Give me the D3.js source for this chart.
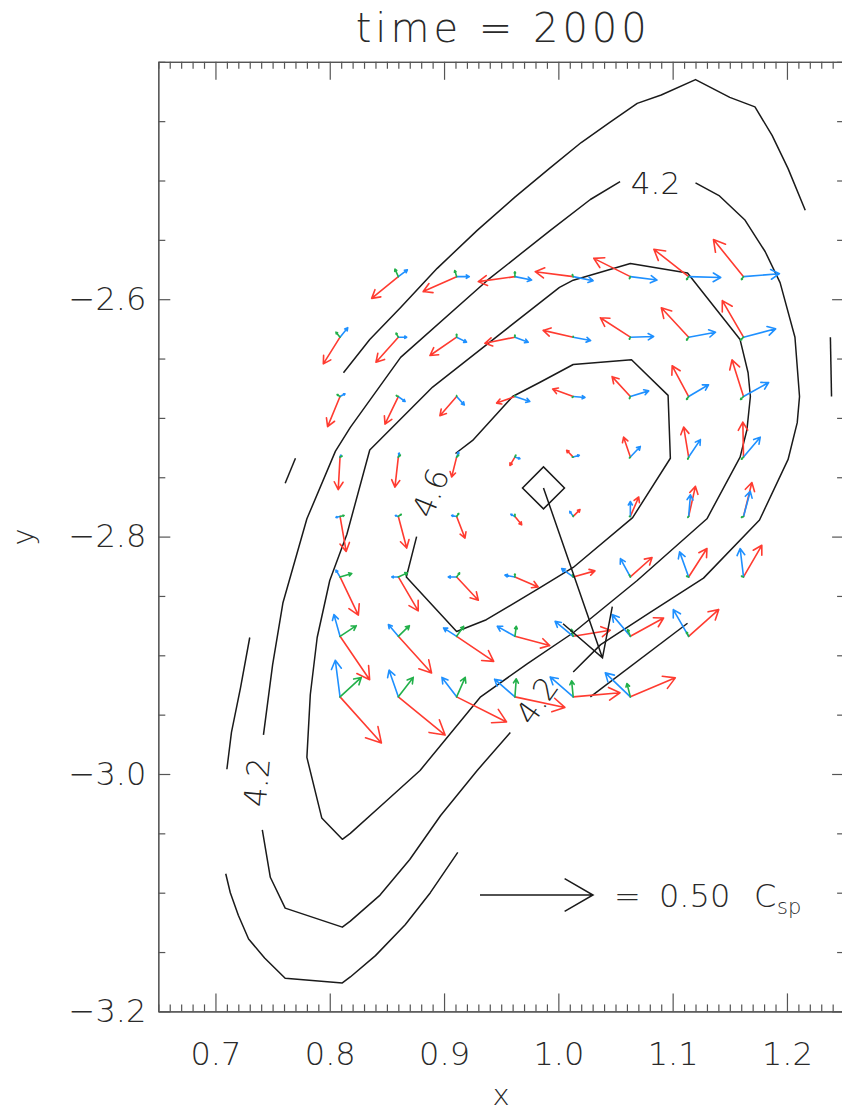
<!DOCTYPE html>
<html>
<head>
<meta charset="utf-8">
<script src="https://cdn.jsdelivr.net/npm/d3@7"></script>
<style>
  body { margin: 0; background: #fff; }
  text { font-family: "DejaVu Sans", sans-serif; font-weight: 200; fill: #2a2a2a; }
</style>
</head>
<body>
<svg id="chart" width="842" height="1113"></svg>
<script>
// ---- axes ----
const xDomain = [0.65, 1.25];
const yDomain = [-3.2, -2.4];
const xTickValues = [0.7, 0.8, 0.9, 1.0, 1.1, 1.2];
const yTickValues = [-3.2, -3.0, -2.8, -2.6];
const titleText = "time = 2000";

// ---- vector grid (x, y of nodes) ----
const gridX = [0.809, 0.860, 0.911, 0.962, 1.013, 1.063, 1.114, 1.162];
const gridY = [-2.581, -2.632, -2.682, -2.733, -2.783, -2.834, -2.884, -2.935];

// velocity components [u, v] in units of C_sp, one row per gridY
const redVec = [
  [null, [-0.118,-0.096], [-0.148,-0.066], [-0.162,-0.022], [-0.168,0.022], [-0.162,0.081], [-0.154,0.121], [-0.133,0.164]],
  [[-0.074,-0.118], [-0.099,-0.111], [-0.118,-0.081], [-0.133,-0.027], [-0.133,0.030], [-0.133,0.086], [-0.121,0.130], [-0.094,0.162]],
  [[-0.055,-0.133], [-0.059,-0.122], [-0.074,-0.085], [-0.081,-0.029], [-0.091,0.033], [-0.081,0.088], [-0.073,0.136], [-0.051,0.162]],
  [[-0.008,-0.144], [-0.015,-0.133], [-0.022,-0.088], [-0.022,-0.037], [-0.029,0.030], [-0.030,0.088], [-0.022,0.133], [-0.003,0.155]],
  [[0.027,-0.155], [0.037,-0.140], [0.037,-0.096], [0.030,-0.037], [0.030,0.030], [0.037,0.086], [0.030,0.133], [0.037,0.150]],
  [[0.081,-0.169], [0.088,-0.150], [0.096,-0.103], [0.103,-0.044], [0.096,0.027], [0.096,0.086], [0.081,0.126], [0.081,0.140]],
  [[0.131,-0.192], [0.147,-0.162], [0.164,-0.111], [0.154,-0.041], [0.164,0.027], [0.147,0.081], [0.133,0.118], null],
  [[0.183,-0.204], [0.207,-0.169], [0.221,-0.111], [0.221,-0.047], [0.207,0.018], [0.199,0.084], null, null]
];
const blueVec = [
  [null, [0.040,0.030], [0.056,0.000], [0.074,-0.015], [0.088,-0.018], [0.118,-0.015], [0.142,-0.004], [0.159,0.013]],
  [[0.034,0.042], [0.037,0.000], [0.044,-0.022], [0.059,-0.022], [0.077,-0.015], [0.103,0.003], [0.119,0.022], [0.142,0.037]],
  [[0.022,0.012], [0.030,-0.022], [0.034,-0.037], [0.066,-0.022], [0.052,-0.004], [0.081,0.025], [0.088,0.052], [0.111,0.062]],
  [[0.004,0.009], [0.004,0.018], [0.009,0.022], [0.022,-0.007], [0.027,0.008], [0.044,0.047], [0.052,0.077], [0.074,0.088]],
  [[-0.018,-0.004], [-0.013,0.004], [-0.022,0.004], [-0.018,0.009], [-0.015,0.022], [0.000,0.066], [0.008,0.096], [0.030,0.111]],
  [[-0.018,0.030], [-0.029,0.000], [-0.037,0.000], [-0.044,0.008], [-0.051,0.037], [-0.044,0.081], [-0.040,0.111], [-0.015,0.126]],
  [[-0.027,0.096], [-0.044,0.052], [-0.058,0.037], [-0.078,0.044], [-0.080,0.066], [-0.081,0.096], [-0.068,0.118], null],
  [[-0.021,0.162], [-0.041,0.118], [-0.065,0.086], [-0.090,0.078], [-0.102,0.088], [-0.111,0.106], null, null]
];
const greenVec = [
  [null, [-0.015,0.033], [-0.008,0.027], [0.000,0.021], [-0.004,0.009], [-0.004,-0.009], [-0.009,-0.013], [-0.009,-0.013]],
  [[-0.018,0.022], [-0.010,0.018], [0.000,0.013], [0.000,0.009], [0.000,0.004], [-0.004,-0.009], [-0.009,-0.013], [-0.013,-0.013]],
  [[-0.013,0.009], [-0.009,0.004], [0.000,0.004], [0.000,0.004], [-0.004,-0.004], [-0.004,-0.009], [-0.009,-0.013], [-0.013,-0.013]],
  [[0.009,0.004], [0.009,0.009], [0.009,0.009], [0.004,0.009], [-0.004,0.000], [-0.004,-0.004], [-0.004,-0.009], [-0.009,-0.009]],
  [[0.018,0.004], [0.013,0.009], [0.009,0.013], [0.000,0.009], [0.000,0.004], [-0.004,0.000], [-0.004,-0.004], [-0.009,-0.004]],
  [[0.052,0.015], [0.040,0.018], [0.013,0.018], [0.000,0.013], [-0.004,0.009], [-0.004,0.009], [-0.009,0.004], [-0.009,0.004]],
  [[0.072,0.047], [0.049,0.047], [0.031,0.044], [0.006,0.044], [-0.008,0.031], [-0.012,0.030], [-0.009,0.018], null],
  [[0.094,0.086], [0.066,0.086], [0.038,0.086], [0.006,0.080], [-0.007,0.071], [-0.015,0.059], null, null]
];

// star position and its velocity (C_sp)
const starPos = [0.987, -2.759];
const starVel = [0.261, -0.752];
const legendSpeed = 0.50;

// ---- contour lines (data coordinates), broken where labels sit ----
const contourLines = [
  // outermost
  [[1.216,-2.525],[1.201,-2.490],[1.187,-2.462],[1.172,-2.438],[1.150,-2.430],[1.120,-2.415],[1.090,-2.428],[1.069,-2.435],[1.045,-2.451],[1.020,-2.468],[0.992,-2.490],[0.962,-2.514],[0.929,-2.542],[0.894,-2.574],[0.862,-2.607],[0.835,-2.634],[0.812,-2.662]],
  [[0.761,-2.755],[0.770,-2.734]],
  [[1.238,-2.632],[1.239,-2.682]],
  [[0.730,-2.885],[0.722,-2.927],[0.714,-2.965],[0.710,-2.996]],
  [[0.709,-3.084],[0.713,-3.100],[0.720,-3.119],[0.729,-3.139],[0.743,-3.155],[0.761,-3.172],[0.811,-3.176],[0.818,-3.171],[0.840,-3.153],[0.866,-3.127],[0.888,-3.100],[0.912,-3.066]],
  [[1.028,-2.935],[1.113,-2.873]],
  // 4.2
  [[0.742,-2.967],[0.750,-2.908],[0.759,-2.856],[0.780,-2.785],[0.805,-2.728],[0.818,-2.708],[0.862,-2.649],[0.938,-2.584],[0.993,-2.542],[1.028,-2.516],[1.054,-2.501]],
  [[1.120,-2.502],[1.141,-2.513],[1.163,-2.533],[1.181,-2.560],[1.194,-2.586],[1.207,-2.632],[1.211,-2.682],[1.209,-2.704],[1.201,-2.735],[1.176,-2.786],[1.127,-2.835],[1.080,-2.864],[1.037,-2.891],[1.013,-2.914]],
  [[0.958,-2.965],[0.929,-2.997],[0.897,-3.035],[0.870,-3.072],[0.844,-3.102],[0.818,-3.124],[0.811,-3.129],[0.761,-3.113],[0.748,-3.087],[0.741,-3.047]],
  // 4.4
  [[0.815,-2.798],[0.800,-2.837],[0.789,-2.885],[0.783,-2.933],[0.780,-2.986],[0.793,-3.037],[0.811,-3.055],[0.818,-3.050],[0.848,-3.024],[0.879,-2.997],[0.932,-2.935],[0.973,-2.907],[1.013,-2.881],[1.069,-2.837],[1.130,-2.785],[1.159,-2.733],[1.165,-2.710],[1.168,-2.682],[1.166,-2.662],[1.159,-2.634],[1.113,-2.578],[1.063,-2.570],[1.013,-2.584],[1.001,-2.590],[0.890,-2.674],[0.835,-2.727],[0.815,-2.798]],
  // 4.6
  [[0.910,-2.730],[0.925,-2.719],[0.960,-2.682],[0.984,-2.670],[1.013,-2.655],[1.064,-2.651],[1.096,-2.681],[1.098,-2.734],[1.065,-2.784],[1.013,-2.826],[0.984,-2.843],[0.937,-2.870],[0.911,-2.880],[0.867,-2.834],[0.876,-2.800]]
];
const contourLabels = [
  { text: "4.2", x: 1.085, y: -2.502, angle: 0 },
  { text: "4.6", x: 0.888, y: -2.763, angle: -68 },
  { text: "4.2", x: 0.981, y: -2.938, angle: -55 },
  { text: "4.2", x: 0.736, y: -3.007, angle: -85 }
];

// ---- colours ----
const colRed = "#ff3b30";
const colBlue = "#1e90ff";
const colGreen = "#22b04a";

const svg = d3.select("#chart");
const margin = { left: 158.3, right: 844.1, top: 61.8, bottom: 1011.4 };

const x = d3.scaleLinear().domain(xDomain).range([margin.left, margin.right]);
const y = d3.scaleLinear().domain(yDomain).range([margin.bottom, margin.top]);
// arrow length in pixels for a speed in C_sp
const vlen = d3.scaleLinear().domain([0, legendSpeed]).range([0, 113]);

const fmt1 = d3.format(".1f");

function arrowPath(x0, y0, x1, y1, frac) {
  const dx = x1 - x0, dy = y1 - y0, L = Math.hypot(dx, dy);
  if (L < 0.6) return "";
  const h = L * frac, a = Math.atan2(dy, dx), phi = Math.PI / 6;
  const hx1 = x1 - h * Math.cos(a - phi), hy1 = y1 - h * Math.sin(a - phi);
  const hx2 = x1 - h * Math.cos(a + phi), hy2 = y1 - h * Math.sin(a + phi);
  return `M${x0},${y0}L${x1},${y1}M${hx1},${hy1}L${x1},${y1}L${hx2},${hy2}`;
}

// ---- contours ----
const line = d3.line().x(d => x(d[0])).y(d => y(d[1]));
svg.append("g").selectAll("path").data(contourLines).join("path")
  .attr("d", line).attr("fill", "none").attr("stroke", "#1a1a1a")
  .attr("stroke-width", 1.5).attr("stroke-linejoin", "round");

svg.append("g").selectAll("text").data(contourLabels).join("text")
  .attr("transform", d => `translate(${x(d.x)},${y(d.y)}) rotate(${d.angle})`)
  .attr("text-anchor", "middle").attr("dy", "0.36em")
  .style("font-size", "31px").style("fill", "#222").text(d => d.text);

// ---- vector field ----
function drawField(vecs, colour) {
  const items = [];
  vecs.forEach((row, j) => row.forEach((v, i) => { if (v) items.push({ i, j, u: v[0], v: v[1] }); }));
  svg.append("g").selectAll("path").data(items).join("path")
    .attr("d", d => {
      const x0 = x(gridX[d.i]), y0 = y(gridY[d.j]);
      return arrowPath(x0, y0, x0 + vlen(d.u), y0 - vlen(d.v), 0.27);
    })
    .attr("fill", "none").attr("stroke", colour).attr("stroke-width", 1.6)
    .attr("stroke-linecap", "round").attr("stroke-linejoin", "round");
}
drawField(redVec, colRed);
drawField(blueVec, colBlue);
drawField(greenVec, colGreen);

// ---- star marker and its velocity ----
const sx = x(starPos[0]), sy = y(starPos[1]);
svg.append("path")
  .attr("d", d3.symbol().type(d3.symbolSquare).size(21 * 21 * 2)())
  .attr("transform", `translate(${sx},${sy}) rotate(45)`)
  .attr("fill", "none").attr("stroke", "#1a1a1a").attr("stroke-width", 1.5);
svg.append("path")
  .attr("d", arrowPath(sx, sy, sx + vlen(starVel[0]), sy - vlen(starVel[1]), 0.29))
  .attr("fill", "none").attr("stroke", "#1a1a1a").attr("stroke-width", 1.5);

// ---- legend arrow ----
const lx = 480, ly = 895;
svg.append("path")
  .attr("d", arrowPath(lx, ly, lx + vlen(legendSpeed), ly, 0.29))
  .attr("fill", "none").attr("stroke", "#1a1a1a").attr("stroke-width", 1.5);
const legendG = svg.append("g").style("font-size", "32px");
legendG.append("text").attr("x", 614).attr("y", 906.5).text("=");
legendG.append("text").attr("x", 659).attr("y", 906.5).text(d3.format(".2f")(legendSpeed));
legendG.append("text").attr("x", 754).attr("y", 906.5).text("C");
legendG.append("text").attr("x", 777).attr("y", 914).style("font-size", "21px").text("sp");

// ---- axes ----
const axisCol = "#555";
function styleAxis(g) {
  g.selectAll("path, line").attr("stroke", axisCol).attr("stroke-width", 1.2);
  g.selectAll("text").style("font-size", "32px").style("fill", "#2a2a2a")
    .style("font-family", "DejaVu Sans, sans-serif").style("font-weight", 200);
}
const xMinor = d3.range(65, 126).map(v => v / 100).filter(v => !xTickValues.some(t => Math.abs(t - v) < 1e-6));
const yMinor = d3.range(-320, -239, 5).map(v => v / 100).filter(v => !yTickValues.some(t => Math.abs(t - v) < 1e-6));

// bottom
svg.append("g").attr("transform", `translate(0,${margin.bottom})`)
  .call(d3.axisBottom(x).tickValues(xTickValues).tickFormat(fmt1).tickSizeInner(-18).tickSizeOuter(0).tickPadding(31))
  .call(styleAxis);
svg.append("g").attr("transform", `translate(0,${margin.bottom})`)
  .call(d3.axisBottom(x).tickValues(xMinor).tickFormat("").tickSizeInner(-7).tickSizeOuter(0))
  .call(styleAxis);
// top
svg.append("g").attr("transform", `translate(0,${margin.top})`)
  .call(d3.axisTop(x).tickValues(xTickValues).tickFormat("").tickSizeInner(-18).tickSizeOuter(0))
  .call(styleAxis);
svg.append("g").attr("transform", `translate(0,${margin.top})`)
  .call(d3.axisTop(x).tickValues(xMinor).tickFormat("").tickSizeInner(-7).tickSizeOuter(0))
  .call(styleAxis);
// left
svg.append("g").attr("transform", `translate(${margin.left},0)`)
  .call(d3.axisLeft(y).tickValues(yTickValues).tickFormat(fmt1).tickSizeInner(-12).tickSizeOuter(0).tickPadding(12))
  .call(styleAxis);
svg.append("g").attr("transform", `translate(${margin.left},0)`)
  .call(d3.axisLeft(y).tickValues(yMinor).tickFormat("").tickSizeInner(-7).tickSizeOuter(0))
  .call(styleAxis);
// right
svg.append("g").attr("transform", `translate(${margin.right},0)`)
  .call(d3.axisRight(y).tickValues(yTickValues).tickFormat("").tickSizeInner(-12).tickSizeOuter(0))
  .call(styleAxis);
svg.append("g").attr("transform", `translate(${margin.right},0)`)
  .call(d3.axisRight(y).tickValues(yMinor).tickFormat("").tickSizeInner(-7).tickSizeOuter(0))
  .call(styleAxis);

// ---- titles ----
const cx = (margin.left + margin.right) / 2;
svg.append("text").attr("x", cx + 2).attr("y", 42).attr("text-anchor", "middle")
  .style("font-size", "40px").style("letter-spacing", "4px").text(titleText);
svg.append("text").attr("x", cx).attr("y", 1105).attr("text-anchor", "middle")
  .style("font-size", "29px").text("x");
svg.append("text").attr("transform", `translate(33,537) rotate(-90)`).attr("text-anchor", "middle")
  .style("font-size", "29px").text("y");
</script>
</body>
</html>
